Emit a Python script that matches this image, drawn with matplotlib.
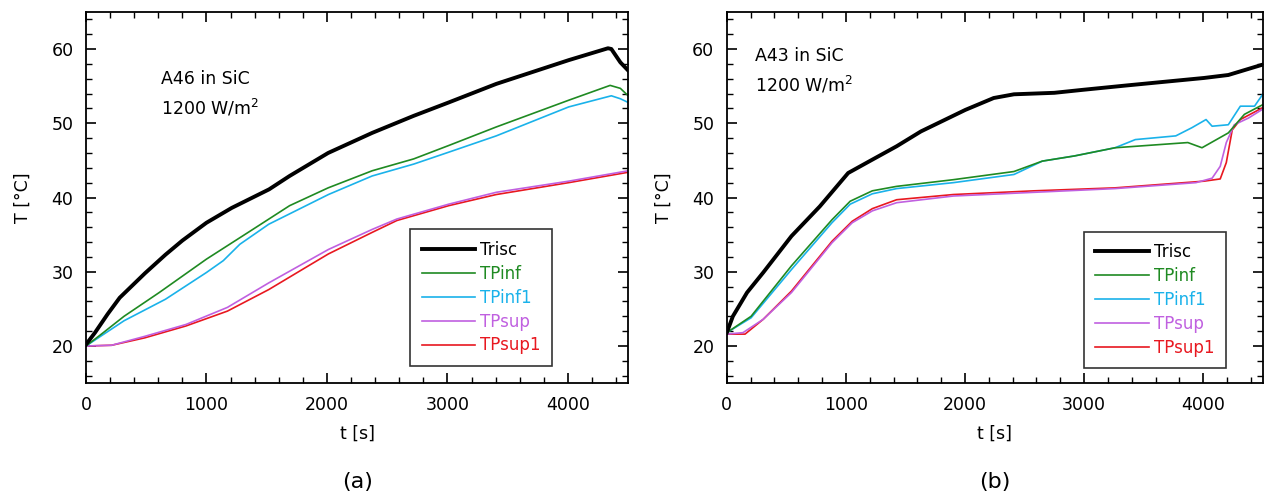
import matplotlib.pyplot as plt
from matplotlib.ticker import MultipleLocator

# ---- panel (a): A46 in SiC ----
a_trisc_t = [0, 75, 180, 280, 490, 660, 800, 1000, 1210, 1520, 1690, 2010, 2375, 2720, 3010, 3405, 4006, 4332, 4360, 4435, 4500]
a_trisc_T = [20.2, 21.8, 24.3, 26.5, 29.8, 32.3, 34.2, 36.6, 38.6, 41.1, 42.9, 46.0, 48.7, 51.0, 52.8, 55.3, 58.5, 60.1, 60.0, 58.2, 57.1]
a_tpinf_t = [0, 144, 316, 608, 1000, 1346, 1690, 2010, 2375, 2720, 3010, 3405, 4006, 4350, 4435, 4500]
a_tpinf_T = [20.0, 21.8, 24.0, 27.2, 31.7, 35.3, 38.9, 41.3, 43.6, 45.2, 47.0, 49.5, 53.1, 55.1, 54.7, 53.7]
a_tpinf1_t = [0, 316, 660, 1000, 1140, 1277, 1517, 2012, 2375, 2720, 3010, 3405, 4006, 4360, 4435, 4500]
a_tpinf1_T = [20.0, 23.4, 26.3, 29.9, 31.5, 33.7, 36.4, 40.4, 42.9, 44.5, 46.1, 48.3, 52.2, 53.7, 53.3, 52.8]
a_tpsup_t = [0, 213, 488, 830, 1174, 1517, 2012, 2375, 2580, 3010, 3405, 4006, 4500]
a_tpsup_T = [20.0, 20.1, 21.3, 22.9, 25.2, 28.5, 33.0, 35.7, 37.1, 39.1, 40.7, 42.2, 43.6]
a_tpsup1_t = [0, 213, 488, 830, 1174, 1517, 1826, 2012, 2375, 2580, 3010, 3405, 4006, 4500]
a_tpsup1_T = [20.0, 20.1, 21.1, 22.7, 24.7, 27.6, 30.6, 32.4, 35.3, 36.9, 38.9, 40.4, 42.0, 43.4]

# ---- panel (b): A43 in SiC ----
b_trisc_t = [0, 51, 170, 306, 543, 781, 1019, 1222, 1426, 1630, 2003, 2241, 2411, 2750, 2988, 3362, 4007, 4211, 4500]
b_trisc_T = [21.8, 24.0, 27.2, 29.9, 34.8, 38.8, 43.3, 45.1, 46.9, 48.9, 51.8, 53.4, 53.9, 54.1, 54.5, 55.1, 56.1, 56.5, 57.9]
b_tpinf_t = [0, 204, 543, 883, 1036, 1222, 1426, 1902, 2411, 2649, 2920, 3260, 3871, 3990, 4211, 4346, 4500]
b_tpinf_T = [21.8, 24.0, 30.8, 37.0, 39.5, 40.9, 41.5, 42.4, 43.5, 44.9, 45.6, 46.7, 47.4, 46.7, 48.7, 51.2, 52.5]
b_tpinf1_t = [0, 204, 543, 883, 1036, 1222, 1426, 1902, 2411, 2649, 2920, 3260, 3430, 3770, 3905, 4024, 4075, 4211, 4312, 4431, 4500]
b_tpinf1_T = [21.8, 23.8, 30.3, 36.6, 39.1, 40.5, 41.2, 42.0, 43.1, 44.9, 45.6, 46.7, 47.8, 48.3, 49.4, 50.5, 49.6, 49.8, 52.3, 52.3, 53.9]
b_tpsup_t = [0, 136, 306, 543, 883, 1053, 1222, 1426, 1902, 2581, 3260, 3939, 4075, 4143, 4194, 4261, 4380, 4500]
b_tpsup_T = [21.6, 21.8, 23.6, 27.2, 33.9, 36.6, 38.2, 39.3, 40.2, 40.7, 41.2, 42.0, 42.6, 44.2, 47.4, 49.8, 50.7, 51.9]
b_tpsup1_t = [0, 153, 306, 543, 883, 1053, 1222, 1426, 1902, 2581, 3260, 4007, 4143, 4194, 4244, 4312, 4500]
b_tpsup1_T = [21.6, 21.6, 23.6, 27.4, 34.1, 36.8, 38.5, 39.7, 40.4, 40.9, 41.3, 42.2, 42.5, 44.7, 49.1, 50.5, 52.1]

nombres = ['Trisc', 'TPinf', 'TPinf1', 'TPsup', 'TPsup1']
colores = ['black', '#1f8a22', '#1ab2ea', '#c060e0', '#e81820']
anchos = [2.8, 1.2, 1.2, 1.2, 1.2]

panel_a = [(a_trisc_t, a_trisc_T), (a_tpinf_t, a_tpinf_T), (a_tpinf1_t, a_tpinf1_T),
           (a_tpsup_t, a_tpsup_T), (a_tpsup1_t, a_tpsup1_T)]
panel_b = [(b_trisc_t, b_trisc_T), (b_tpinf_t, b_tpinf_T), (b_tpinf1_t, b_tpinf1_T),
           (b_tpsup_t, b_tpsup_T), (b_tpsup1_t, b_tpsup1_T)]

plt.rcParams['font.family'] = ['DejaVu Sans']

fig = plt.figure(figsize=(12.64, 4.95), dpi=100)
ax1 = fig.add_axes([0.068, 0.226, 0.429, 0.75])
ax2 = fig.add_axes([0.575, 0.226, 0.424, 0.75])


def dibujar(ax, series, titulo, pos_txt, letra, pos_leg):
    '''dibuja un panel con sus cinco curvas'''
    lineas = []
    # se dibuja en orden inverso para que Trisc quede arriba
    for i in range(len(series) - 1, -1, -1):
        t, T = series[i]
        l, = ax.plot(t, T, color=colores[i], linewidth=anchos[i], label=nombres[i])
        lineas.insert(0, l)
    ax.set_xlim(0, 4500)
    ax.set_ylim(15, 65)
    ax.xaxis.set_major_locator(MultipleLocator(1000))
    ax.xaxis.set_minor_locator(MultipleLocator(200))
    ax.yaxis.set_major_locator(MultipleLocator(10))
    ax.yaxis.set_minor_locator(MultipleLocator(2))
    ax.tick_params(which='both', direction='in', top=True, right=True, labelsize=12.5)
    ax.tick_params(which='major', length=7, width=1.2, pad=9)
    ax.tick_params(which='minor', length=4, width=1)
    ax.set_yticks([20, 30, 40, 50, 60])
    for s in ax.spines.values():
        s.set_linewidth(1.3)
    ax.set_xlabel('t [s]', fontsize=12.5, labelpad=8)
    ax.set_ylabel('T [°C]', fontsize=12.5, labelpad=14)
    ax.text(pos_txt[0], pos_txt[1], titulo, fontsize=12.5, va='center')
    ax.text(pos_txt[0], pos_txt[1] - 3.8, '1200 W/m$^2$', fontsize=12.5, va='center')
    leg = ax.legend(handles=lineas, loc='lower right', bbox_to_anchor=pos_leg, borderaxespad=0,
                    fontsize=12, frameon=True, fancybox=False, edgecolor='black',
                    handlelength=3.2, handletextpad=0.3, labelspacing=0.35, borderpad=0.7)
    leg.get_frame().set_linewidth(1.2)
    for txt, c in zip(leg.get_texts(), colores):
        txt.set_color(c)
    ax.text(0.5, -0.267, letra, transform=ax.transAxes, ha='center', va='center', fontsize=16)


dibujar(ax1, panel_a, 'A46 in SiC', (620, 55.9), '(a)', (0.860, 0.046))
dibujar(ax2, panel_b, 'A43 in SiC', (235, 59.0), '(b)', (0.931, 0.040))

fig.savefig('out.png', dpi=100)
